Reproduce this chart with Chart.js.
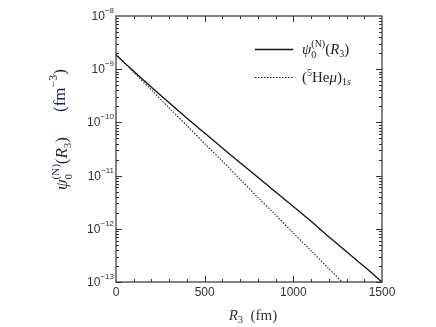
<!DOCTYPE html>
<html><head><meta charset="utf-8">
<script src="https://cdn.jsdelivr.net/npm/chart.js@4/dist/chart.umd.min.js"></script>
<style>html,body{margin:0;padding:0;background:#fff}#wrap{width:436px;height:327px}</style>
</head><body><div id="wrap"><canvas id="c" width="436" height="327"></canvas></div>
<script>
// R3 in fm
const R3 = [0,100,200,300,400,500,600,700,800,900,1000,1100,1200,1300,1400,1500];
// psi_0^(N)(R3) in fm^-3
const psiN = [1.86e-9,9.12e-10,4.57e-10,2.34e-10,1.20e-10,6.31e-11,3.31e-11,1.74e-11,9.33e-12,4.90e-12,2.63e-12,1.38e-12,7.08e-13,3.72e-13,1.95e-13,1.0e-13];
// (5He mu)_1s in fm^-3
const R3mu = [0,100,200,300,400,500,600,700,800,900,1000,1100,1200,1300];
const heMu = [1.91e-9,8.71e-10,4.07e-10,1.86e-10,8.71e-11,3.98e-11,1.86e-11,8.51e-12,3.89e-12,1.82e-12,8.32e-13,3.89e-13,1.78e-13,8.3e-14];
const yTickExps = [-8,-9,-10,-11,-12,-13];
const xTickLabels = [0,500,1000,1500];

const serif = '"Liberation Serif","DejaVu Serif",serif';
const sans = '"Liberation Sans",Arial,sans-serif';

function drawRich(ctx, parts, x, y, color) {
  ctx.fillStyle = color;
  ctx.textBaseline = 'alphabetic';
  ctx.textAlign = 'left';
  let cx = x;
  for (const p of parts) {
    ctx.font = (p.italic ? 'italic ' : '') + p.size + 'px ' + (p.font || serif);
    ctx.fillText(p.t, cx + (p.dx || 0), y + (p.dy || 0));
    const w = ctx.measureText(p.t).width;
    if (!p.noAdvance) cx += w + (p.dx || 0);
  }
  return cx - x;
}

const overlay = {
  id: 'overlay',
  afterDatasetsDraw(chart) {
    const ctx = chart.ctx;
    const a = chart.chartArea;
    const xs = chart.scales.x, ys = chart.scales.y;
    ctx.save();
    // frame
    ctx.strokeStyle = '#333';
    ctx.lineWidth = 1.2;
    ctx.strokeRect(a.left, a.top, a.right - a.left, a.bottom - a.top);
    // ticks (inside, mirrored)
    ctx.lineWidth = 1;
    ctx.beginPath();
    for (let e = -13; e < -8; e++) {
      for (let m = 1; m <= 9; m++) {
        const v = m * Math.pow(10, e);
        const py = Math.round(ys.getPixelForValue(v)) + 0.5;
        const len = m === 1 ? 6 : 3;
        ctx.moveTo(a.left, py); ctx.lineTo(a.left + len, py);
        ctx.moveTo(a.right, py); ctx.lineTo(a.right - len, py);
      }
    }
    for (let v = 100; v < 1500; v += 100) {
      const px = Math.round(xs.getPixelForValue(v)) + 0.5;
      const len = v % 500 === 0 ? 6 : 3;
      ctx.moveTo(px, a.bottom); ctx.lineTo(px, a.bottom - len);
      ctx.moveTo(px, a.top); ctx.lineTo(px, a.top + len);
    }
    ctx.stroke();
    // y tick labels
    ctx.fillStyle = '#333';
    for (const e of yTickExps) {
      const py = ys.getPixelForValue(Math.pow(10, e));
      ctx.font = '8px ' + sans;
      const sup = '\u2212' + String(-e);
      const ws = ctx.measureText(sup).width;
      ctx.font = '12px ' + sans;
      const wb = ctx.measureText('10').width;
      const xr = a.left - 2;
      ctx.textAlign = 'left'; ctx.textBaseline = 'alphabetic';
      ctx.fillText('10', xr - ws - wb, py + 4);
      ctx.font = '8px ' + sans;
      ctx.fillText(sup, xr - ws, py - 3);
    }
    // x tick labels
    ctx.font = '12px ' + sans;
    ctx.textAlign = 'center'; ctx.textBaseline = 'middle';
    for (const v of xTickLabels) {
      ctx.fillText(String(v), xs.getPixelForValue(v), a.bottom + 11);
    }
    // x title
    const xParts = [
      {t:'R', italic:true, size:15},
      {t:'3', size:10, dy:3},
      {t:'  (fm)', size:15}
    ];
    const xw = drawRich(ctx, xParts, -1000, -1000, 'rgba(0,0,0,0)');
    drawRich(ctx, xParts, (a.left + a.right) / 2 - xw / 2 + 4, a.bottom + 38, '#333');
    // y title rotated
    ctx.save();
    ctx.translate(67, 190);
    ctx.rotate(-Math.PI / 2);
    drawRich(ctx, [
      {t:'\u03C8', italic:true, size:17},
      {t:'0', size:11, dy:5, noAdvance:true},
      {t:'(N)', size:11, dy:-8},
      {t:'(', size:17},
      {t:'R', italic:true, size:17},
      {t:'3', size:11, dy:4},
      {t:')', size:17}
    ], 0, 0, '#1e2450');
    drawRich(ctx, [
      {t:'(fm', size:17},
      {t:'\u22123', size:12, dy:-8},
      {t:')', size:17}
    ], 78, -2, '#1e2450');
    ctx.restore();
    // legend
    ctx.strokeStyle = '#111';
    ctx.lineWidth = 1.3;
    ctx.setLineDash([]);
    ctx.beginPath(); ctx.moveTo(255, 49.5); ctx.lineTo(293, 49.5); ctx.stroke();
    ctx.lineWidth = 1;
    ctx.setLineDash([1.5, 1.5]);
    ctx.beginPath(); ctx.moveTo(255, 77.5); ctx.lineTo(293, 77.5); ctx.stroke();
    ctx.setLineDash([]);
    drawRich(ctx, [
      {t:'\u03C8', italic:true, size:15},
      {t:'0', size:10, dy:4, noAdvance:true},
      {t:'(N)', size:10, dy:-7},
      {t:'(', size:15},
      {t:'R', italic:true, size:15},
      {t:'3', size:10, dy:3},
      {t:')', size:15}
    ], 302, 54, '#222');
    drawRich(ctx, [
      {t:'(', size:15},
      {t:'5', size:10, dy:-6},
      {t:'He', size:15},
      {t:'\u03BC', italic:true, size:15},
      {t:')', size:15},
      {t:'1', size:10, dy:3},
      {t:'s', italic:true, size:10, dy:3}
    ], 302, 82, '#222');
    ctx.restore();
  }
};

new Chart(document.getElementById('c'), {
  type: 'line',
  data: {
    datasets: [
      { label: 'psiN', data: R3.map((r, i) => ({x: r, y: psiN[i]})), borderColor: '#111', borderWidth: 1.3, pointRadius: 0, tension: 0.3, fill: false },
      { label: 'heMu', data: R3mu.map((r, i) => ({x: r, y: heMu[i]})), borderColor: '#222', borderWidth: 1.1, borderDash: [1.5, 1.5], pointRadius: 0, tension: 0.3, fill: false }
    ]
  },
  options: {
    responsive: false,
    animation: false,
    devicePixelRatio: 1,
    layout: { padding: { left: 116, right: 54, top: 16, bottom: 45 } },
    plugins: { legend: { display: false }, tooltip: { enabled: false } },
    scales: {
      x: { type: 'linear', display: false, min: 0, max: 1500 },
      y: { type: 'logarithmic', display: false, min: 1e-13, max: 1e-8 }
    }
  },
  plugins: [overlay]
});
</script></body></html>
